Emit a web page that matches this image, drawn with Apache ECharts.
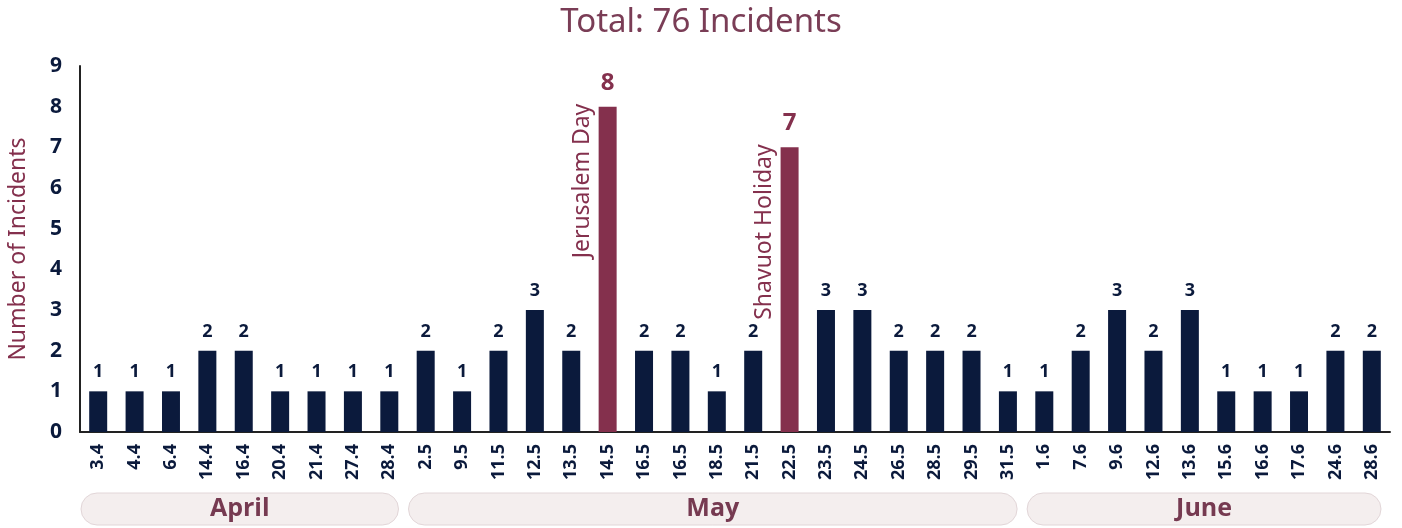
<!DOCTYPE html>
<html>
<head>
    <meta charset="utf-8">
    <title>Incidents</title>
    <script src="https://cdn.jsdelivr.net/npm/echarts@6/dist/echarts.min.js"></script>
    <style>
        html, body { margin: 0; padding: 0; background: #fff; }
        #main { width: 1402px; height: 528px; }
    </style>
</head>
<body>
<div id="main"></div>
<script>
    var dates = ['3.4', '4.4', '6.4', '14.4', '16.4', '20.4', '21.4', '27.4', '28.4',
        '2.5', '9.5', '11.5', '12.5', '13.5', '14.5', '16.5', '16.5', '18.5', '21.5', '22.5',
        '23.5', '24.5', '26.5', '28.5', '29.5', '31.5',
        '1.6', '7.6', '9.6', '12.6', '13.6', '15.6', '16.6', '17.6', '24.6', '28.6'];
    var counts = [1, 1, 1, 2, 2, 1, 1, 1, 1,
        2, 1, 2, 3, 2, 8, 2, 2, 1, 2, 7,
        3, 3, 2, 2, 2, 1,
        1, 2, 3, 2, 3, 1, 1, 1, 2, 2];
    // highlighted days: category index -> note
    var holidays = [
        { index: 14, note: 'Jerusalem Day' },
        { index: 19, note: 'Shavuot Holiday' }
    ];
    // month groups: first and last category index
    var months = [
        { name: 'April', from: 0, to: 8 },
        { name: 'May', from: 9, to: 25 },
        { name: 'June', from: 26, to: 35 }
    ];
    var yTicks = [0, 1, 2, 3, 4, 5, 6, 7, 8, 9];

    var navy = '#0b1a3c';
    var maroon = '#84304d';
    var titleColor = '#7a3d56';

    var holidayIdx = holidays.map(function (h) { return h.index; });

    var barData = counts.map(function (v, i) {
        if (holidayIdx.indexOf(i) >= 0) {
            return {
                value: v,
                itemStyle: { color: maroon },
                label: { color: maroon, fontSize: 24, fontWeight: 'bold', distance: 12 }
            };
        }
        return v;
    });

    var noteData = counts.map(function (v, i) {
        var k = holidayIdx.indexOf(i);
        if (k < 0) return '-';
        return { value: v, note: holidays[k].note };
    });

    var chart = echarts.init(document.getElementById('main'));

    var option = {
        backgroundColor: '#fff',
        animation: false,
        title: {
            text: 'Total: 76 Incidents',
            left: 'center',
            top: 1,
            textStyle: {
                color: titleColor,
                fontSize: 33,
                fontWeight: 'normal',
                fontFamily: 'Noto Sans'
            }
        },
        grid: { left: 80, right: 12, top: 66, bottom: 96, outerBoundsMode: 'none', containLabel: false },
        xAxis: {
            type: 'category',
            data: dates,
            axisLine: { show: true, lineStyle: { color: '#222', width: 2 } },
            axisTick: { show: false },
            axisLabel: {
                rotate: 90,
                margin: 12,
                interval: 0,
                hideOverlap: false,
                color: navy,
                fontSize: 18,
                fontWeight: 'bold',
                fontFamily: 'Open Sans'
            }
        },
        yAxis: {
            type: 'value',
            min: yTicks[0],
            max: yTicks[yTicks.length - 1],
            interval: 1,
            name: 'Number of Incidents',
            nameLocation: 'middle',
            nameGap: 50,
            nameTextStyle: {
                color: maroon,
                fontSize: 23,
                fontFamily: 'Noto Sans'
            },
            axisLine: { show: true, lineStyle: { color: '#222', width: 2 } },
            axisTick: { show: false },
            splitLine: { show: false },
            axisLabel: {
                margin: 18,
                color: navy,
                fontSize: 21,
                fontWeight: 'bold',
                fontFamily: 'Open Sans'
            }
        },
        series: [
            {
                name: 'Incidents',
                type: 'bar',
                barWidth: 18,
                itemStyle: { color: navy },
                label: {
                    show: true,
                    position: 'top',
                    distance: 10,
                    color: navy,
                    fontSize: 18,
                    fontWeight: 'bold',
                    fontFamily: 'Open Sans'
                },
                data: barData
            },
            {
                name: 'Notes',
                type: 'bar',
                barWidth: 18,
                barGap: '-100%',
                silent: true,
                itemStyle: { color: 'rgba(0,0,0,0)' },
                label: {
                    show: true,
                    position: [-16, -3],
                    rotate: 90,
                    align: 'right',
                    verticalAlign: 'middle',
                    color: maroon,
                    fontSize: 23,
                    fontFamily: 'Noto Sans',
                    formatter: function (p) { return p.data.note; }
                },
                data: noteData
            }
        ]
    };
    chart.setOption(option);

    // month pills under the axis labels, placed from the category scale
    function drawMonths() {
        var half = chart.convertToPixel({ xAxisIndex: 0 }, 1) - chart.convertToPixel({ xAxisIndex: 0 }, 0);
        half = half / 2;
        var els = [];
        months.forEach(function (m) {
            var x0 = chart.convertToPixel({ xAxisIndex: 0 }, m.from) - half + 1;
            var x1 = chart.convertToPixel({ xAxisIndex: 0 }, m.to) + half - 9;
            els.push({
                type: 'rect',
                shape: { x: x0, y: 493, width: x1 - x0, height: 32, r: 16 },
                style: { fill: '#f4eeee', stroke: '#e2d6d8', lineWidth: 1 }
            });
            els.push({
                type: 'text',
                x: (x0 + x1) / 2,
                y: 509,
                style: {
                    text: m.name,
                    fill: '#763a51',
                    font: 'bold 25px "Open Sans"',
                    align: 'center',
                    verticalAlign: 'middle'
                }
            });
        });
        chart.setOption({ graphic: els });
    }
    drawMonths();
</script>
</body>
</html>
